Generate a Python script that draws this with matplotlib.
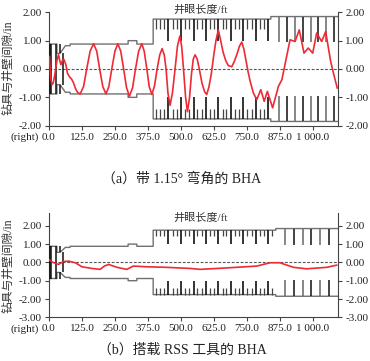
import matplotlib
matplotlib.use('Agg')
from matplotlib import pyplot as plt
from matplotlib.ticker import FixedLocator, FuncFormatter

plt.rcParams['font.family'] = ['Liberation Serif', 'Noto Sans CJK SC']
plt.rcParams['axes.unicode_minus'] = False

# borehole wall outline (upper half, mirrored below), ft / in
wall_x = [0, 30, 30, 42, 62, 80, 80, 300, 300, 333, 333, 395, 395]
wall_y = [0.88, 0.88, 0.55, 0.55, 0.82, 0.82, 0.88, 0.88, 1.0, 1.0, 0.88, 0.88, 1.76]
wide_y = 1.85
x_end = 1097

# tool stabilisers drawn as black bars
stab_x = [2, 6, 28, 40, 40, 52]
stab_y0 = [-0.88, -0.88, -0.88, 0.55, -0.88, -0.55]
stab_y1 = [0.88, 0.88, 0.88, 0.88, -0.55, 0.55]

# casing hatch marks
hatch_short = [406, 422, 437, 469, 484, 516, 532, 563, 579, 611, 626, 658, 673,
               705, 721, 752, 768, 800, 815]
hatch_long = [453, 500, 548, 595, 642, 689, 737, 784, 831]
hatch_short_b = hatch_short + [847]
sparse_a = [873, 901, 933, 962, 993, 1021, 1050, 1081]
sparse_b = [895, 929, 962, 995, 1028, 1063]
step_a = 841
step_b = 860

# (a) 1.15 deg bent BHA clearance
curve_a_x = [2, 6, 11, 16, 22, 30, 36, 41, 45, 51, 57, 64, 70, 78, 86, 93, 100, 108, 118,
             131, 143, 156, 169, 181, 192, 204, 216, 227, 238, 250, 261, 272, 283, 294, 305,
             317, 328, 340, 352, 361, 371, 380, 390, 400, 410, 420, 429, 437, 444, 451, 459,
             468, 478, 487, 496, 503, 510, 518, 525, 533, 540, 547, 554, 562, 570, 580, 590,
             598, 606, 615, 625, 633, 642, 651, 660, 670, 680, 693, 702, 712, 722, 731, 739,
             747, 755, 763, 775, 788, 803, 816, 828, 848, 870, 883, 898, 914, 933, 949, 967,
             983, 1000, 1015, 1034, 1049, 1068, 1080, 1093]
curve_a_y = [0.44, -0.3, -0.55, -0.5, -0.2, 0.3, 0.5, 0.3, 0.15, 0.3, 0.33, 0.15, -0.15,
             -0.28, -0.36, -0.49, -0.68, -0.82, -0.88,
             -0.62, 0.0, 0.63, 0.89, 0.63, 0.0, -0.62, -0.88, -0.62, 0.0, 0.63, 0.89, 0.63,
             0.0, -0.66, -0.96, -0.66, 0.0, 0.63, 0.89, 0.63, 0.0, -0.62, -0.9, -0.6, 0.0,
             0.5, 0.72, 0.5, 0.0, -0.85, -1.28, -0.85, 0.0, 0.8, 1.16, 0.8, 0.0, -1.0, -1.51,
             -1.0, -0.2, 0.35, 0.5, 0.35, 0.0, -0.5, -0.8, -0.9, -0.65, -0.2, 0.5, 1.0, 1.38,
             1.0, 0.6, 0.3, 0.12, 0.08, 0.25, 0.5, 0.8, 0.95, 0.7, 0.3, -0.1, -0.44, -0.85,
             -1.08, -0.73, -1.14, -0.79, -1.37, -0.61, -0.38, 0.3, 1.03, 0.97, 1.38, 0.56,
             0.74, 0.56, 1.27, 0.97, 1.32, 0.27, -0.2, -0.67]

# (b) RSS BHA clearance
curve_b_x = [0, 12, 24, 36, 55, 74, 100, 125, 163, 194, 210, 226, 258, 295, 320, 371, 447,
             535, 573, 687, 788, 838, 876, 927, 977, 1053, 1091]
curve_b_y = [0.16, 0.02, -0.05, -0.11, 0.05, 0.07, -0.02, -0.24, -0.33, -0.38, -0.2, -0.11,
             -0.27, -0.38, -0.2, -0.24, -0.27, -0.33, -0.38, -0.29, -0.2, -0.02, -0.02,
             -0.27, -0.35, -0.27, -0.15]

x_ticks = [0, 125, 250, 375, 500, 625, 750, 875, 1000]
x_labels = ['0.0', '125.0', '250.0', '375.0', '500.0', '625.0', '750.0', '875.0', '1 000.0']

RED = '#ee2a35'
GRAY = '#707070'


def draw_panel(ax, cx, cy, step, sparse, shorts, ylim, yticks):
    ux = wall_x + [step, step, x_end]
    uy = wall_y + [1.76, wide_y, wide_y]
    ax.plot(ux, uy, color=GRAY, lw=1.0, zorder=2)
    ax.plot(ux, [-v for v in uy], color=GRAY, lw=1.0, zorder=2)
    ax.vlines(stab_x, stab_y0, stab_y1, colors='#111111', lw=1.1, zorder=3)
    # casing hatch
    ax.vlines(shorts, 1.76, 1.42, colors='#444444', lw=0.9)
    ax.vlines(shorts, -1.76, -1.42, colors='#444444', lw=0.9)
    ax.vlines(hatch_long, 1.76, 1.0, colors='#111111', lw=1.2)
    ax.vlines(hatch_long, -1.76, -1.0, colors='#111111', lw=1.2)
    for i, sx in enumerate(sparse):
        c = '#111111' if i % 2 else '#666666'
        ax.vlines(sx, wide_y, 0.95, colors=c, lw=1.1)
        ax.vlines(sx, -wide_y, -0.95, colors=c, lw=1.1)
    ax.axhline(0, color='#555555', lw=0.8, ls=(0, (2.5, 1.5)), zorder=1)
    ax.plot(cx, cy, color=RED, lw=1.2, zorder=4)

    ax.set_xlim(0, x_end)
    ax.set_ylim(*ylim)
    ax.xaxis.set_major_locator(FixedLocator(x_ticks))
    ax.set_xticklabels(x_labels)
    ax.yaxis.set_major_locator(FixedLocator(yticks))
    ax.yaxis.set_major_formatter(FuncFormatter(lambda v, p: '%.2f' % v))
    ax.tick_params(axis='both', direction='out', length=3, width=0.8, color='#444444',
                   labelsize=8, pad=2, labelcolor='#222222')
    ax.tick_params(axis='y', right=True, labelright=True)
    ax.spines['top'].set_visible(False)
    for s in ['left', 'right', 'bottom']:
        ax.spines[s].set_color('#444444')
        ax.spines[s].set_linewidth(0.8)
    ax.annotate('(right)', xy=(0, 0), xycoords='axes fraction', xytext=(-7, -5),
                textcoords='offset points', ha='right', va='top', fontsize=8,
                color='#222222')


fig = plt.figure(figsize=(3.7, 3.61), dpi=100)
ax1 = fig.add_axes([49 / 370, 1 - 125.7 / 361, 289.3 / 370, 113.4 / 361])
ax2 = fig.add_axes([49 / 370, 1 - 317.3 / 361, 289.3 / 370, 104.3 / 361])

draw_panel(ax1, curve_a_x, curve_a_y, step_a, sparse_a, hatch_short, (-2, 2),
           [-2, -1, 0, 1, 2])
draw_panel(ax2, curve_b_x, curve_b_y, step_b, sparse_b, hatch_short_b, (-3, 2.7),
           [-3, -2, -1, 0, 1, 2])

ylab = '钻具与井壁间隙/in'
fig.text(8 / 370, 1 - 68 / 361, ylab, rotation=90, ha='center', va='center',
         fontsize=8.5, color='#333333')
fig.text(8 / 370, 1 - 266 / 361, ylab, rotation=90, ha='center', va='center',
         fontsize=8.5, color='#333333')
fig.text(200 / 370, 1 - 10 / 361, '井眼长度/ft', ha='center', va='center', fontsize=8,
         color='#333333')
fig.text(200 / 370, 1 - 218 / 361, '井眼长度/ft', ha='center', va='center', fontsize=8,
         color='#333333')

fig.text(0.492, 1 - 179 / 361, '（a）带 1.15° 弯角的 BHA', ha='center', va='center',
         fontsize=10, color='#222222')
fig.text(0.492, 1 - 350 / 361, '（b）搭载 RSS 工具的 BHA', ha='center', va='center',
         fontsize=10, color='#222222')

fig.savefig('out.png', dpi=100)
